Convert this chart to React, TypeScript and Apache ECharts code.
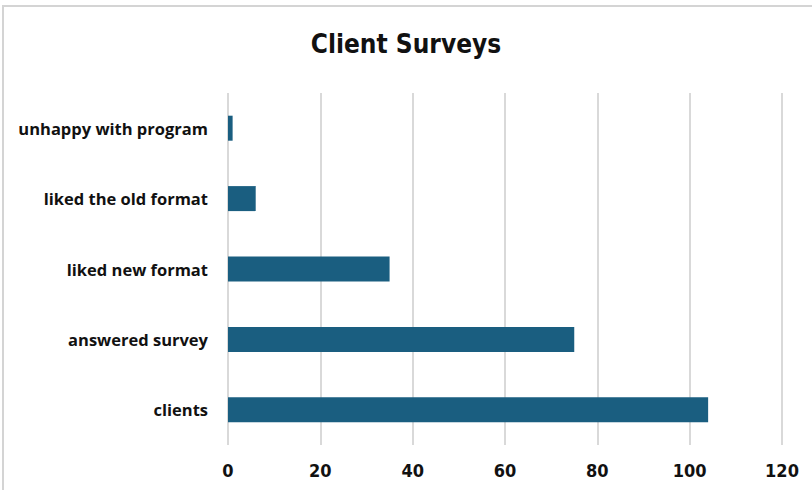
import React, { useEffect, useRef } from "react";
import * as echarts from "echarts";

const categories = ["clients", "answered survey", "liked new format", "liked the old format", "unhappy with program"];
const values = [104, 75, 35, 6, 1];
const titleText = "Client Surveys";

export default function App() {
  const ref = useRef<HTMLDivElement>(null);
  useEffect(() => {
    document.body.style.margin = "0";
    const chart = echarts.init(ref.current!, null, { renderer: "svg" });
    chart.setOption({
      animation: false,
      backgroundColor: "#ffffff",
      title: {
        text: titleText,
        left: "center",
        top: 26,
        textStyle: {
          fontFamily: "'Liberation Sans Narrow', 'DejaVu Sans Condensed', sans-serif",
          fontWeight: "bold",
          fontSize: 26,
          color: "#111111",
        },
      },
      graphic: [
        {
          type: "rect",
          shape: { x: 3, y: 6, width: 820, height: 500 },
          style: { fill: "none", stroke: "#d4d4d4", lineWidth: 2 },
          silent: true,
        },
      ],
      grid: { left: 228, right: 30, top: 93, bottom: 45, containLabel: false },
      xAxis: {
        type: "value",
        min: 0,
        max: 120,
        interval: 20,
        axisLine: { show: false },
        axisTick: { show: false },
        splitLine: { show: true, lineStyle: { color: "#d9d9d9", width: 2 } },
        axisLabel: {
          margin: 16,
          fontFamily: "'Liberation Sans Narrow', 'DejaVu Sans Condensed', sans-serif",
          fontWeight: "bold",
          fontSize: 18,
          color: "#111111",
        },
      },
      yAxis: {
        type: "category",
        data: categories,
        axisLine: { show: false },
        axisTick: { show: false },
        axisLabel: {
          margin: 20,
          fontFamily: "'Open Sans', sans-serif",
          fontWeight: "bold",
          fontSize: 16.5,
          color: "#111111",
        },
      },
      series: [
        {
          type: "bar",
          data: values,
          barWidth: 25,
          itemStyle: { color: "#1a5e80" },
        },
      ],
    });
    return () => chart.dispose();
  }, []);
  return <div ref={ref} style={{ width: 812, height: 490 }} />;
}
